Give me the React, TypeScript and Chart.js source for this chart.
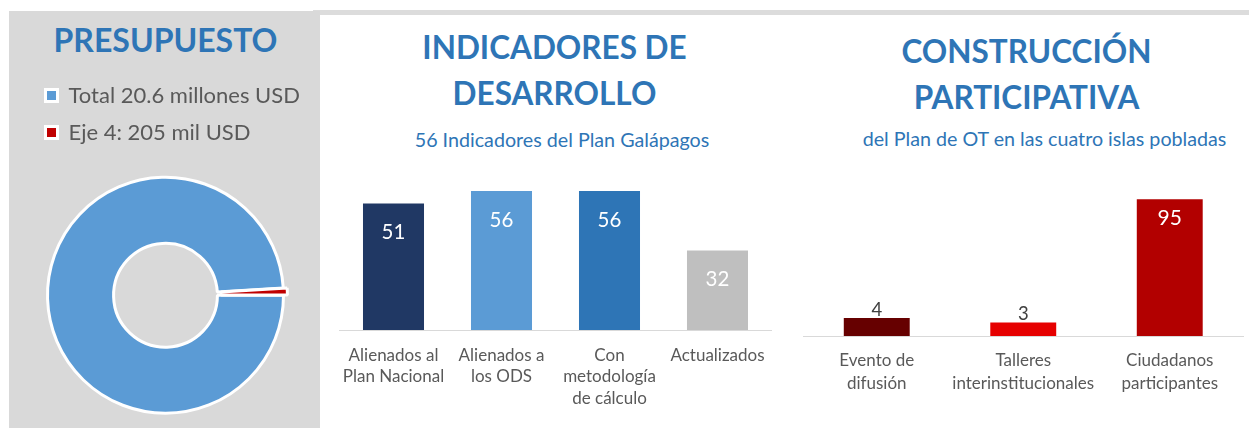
import React, { useEffect, useRef } from 'react';
import { Chart, registerables } from 'chart.js';

Chart.register(...registerables);

// ---------- DATA ----------
const presupuestoLabels = ['Total 20.6 millones USD', 'Eje 4: 205 mil USD'];
const presupuestoValues = [20.6, 0.205];
const presupuestoColors = ['#5b9bd5', '#c00000'];

const indicadoresLabels = [
  ['Alienados al', 'Plan Nacional'],
  ['Alienados a', 'los ODS'],
  ['Con', 'metodología', 'de cálculo'],
  ['Actualizados'],
];
const indicadoresValues = [51, 56, 56, 32];
const indicadoresColors = ['#203864', '#5b9bd5', '#2e75b6', '#bfbfbf'];

const participacionLabels = [
  ['Evento de', 'difusión'],
  ['Talleres', 'interinstitucionales'],
  ['Ciudadanos', 'participantes'],
];
const eventosValues = [4, 3, null];
const ciudadanosValues = [null, null, 95];
const participacionColors = ['#660000', '#e60000', '#b20000'];

const FONT = 'Lato';
const BLUE = '#2e75b6';
const GRAY_TEXT = '#595959';

// ---------- value label plugin ----------
const valueLabelPlugin = {
  id: 'valueLabels',
  afterDatasetsDraw(chart: any) {
    const ctx = chart.ctx;
    chart.data.datasets.forEach((ds: any, di: number) => {
      const meta = chart.getDatasetMeta(di);
      if (!ds.labelColor) return;
      meta.data.forEach((bar: any, i: number) => {
        const v = ds.data[i];
        if (v === null || v === undefined) return;
        ctx.save();
        ctx.fillStyle = ds.labelColor;
        ctx.font = `${ds.labelSize}px ${FONT}`;
        ctx.textAlign = 'center';
        ctx.textBaseline = 'alphabetic';
        ctx.fillText(String(v), bar.x, bar.y + ds.labelOffset);
        ctx.restore();
      });
    });
  },
};

function ChartCanvas({ makeConfig, width, height, left, top }: any) {
  const ref = useRef<HTMLCanvasElement | null>(null);
  useEffect(() => {
    const chart = new Chart(ref.current as HTMLCanvasElement, makeConfig());
    return () => chart.destroy();
  }, []);
  return (
    <canvas
      ref={ref}
      width={width}
      height={height}
      style={{ position: 'absolute', left, top, width, height }}
    />
  );
}

const fixAxis = (h: number) => (s: any) => {
  s.height = h;
  s.paddingLeft = 0;
  s.paddingRight = 0;
};

const donutConfig = () => ({
  type: 'doughnut',
  data: {
    labels: presupuestoLabels,
    datasets: [
      {
        data: presupuestoValues,
        backgroundColor: presupuestoColors,
        borderColor: '#ffffff',
        borderWidth: 3,
        offset: [0, 8],
      },
    ],
  },
  options: {
    animation: false,
    responsive: false,
    events: [],
    radius: 118,
    cutout: '44%',
    rotation: 90,
    layout: { padding: { left: 21.5, right: 19.5, top: 9.5, bottom: 0 } },
    plugins: {
      legend: {
        display: true,
        position: 'top',
        align: 'start',
        labels: {
          boxWidth: 12,
          boxHeight: 12,
          padding: 15,
          color: GRAY_TEXT,
          font: { family: FONT, size: 22 },
        },
      },
      tooltip: { enabled: false },
    },
  },
});

const indicadoresConfig = () => ({
  type: 'bar',
  data: {
    labels: indicadoresLabels,
    datasets: [
      {
        data: indicadoresValues,
        backgroundColor: indicadoresColors,
        barPercentage: 0.565,
        categoryPercentage: 1,
        labelColor: '#ffffff',
        labelSize: 20.5,
        labelOffset: 35.5,
      },
    ],
  },
  plugins: [valueLabelPlugin],
  options: {
    animation: false,
    responsive: false,
    events: [],
    layout: { padding: { left: 9.5, right: 8.5, top: 10, bottom: 0 } },
    plugins: { legend: { display: false }, tooltip: { enabled: false } },
    scales: {
      x: {
        grid: { display: false, drawTicks: false },
        border: { display: true, color: '#d9d9d9', width: 1 },
        ticks: {
          color: GRAY_TEXT,
          font: { family: FONT, size: 17, lineHeight: '21.7px' },
          padding: 14.2,
          maxRotation: 0,
          autoSkip: false,
        },
        afterFit: fixAxis(90),
      },
      y: { display: false, min: 0, max: 64.5 },
    },
  },
});

const participacionConfig = () => ({
  type: 'bar',
  data: {
    labels: participacionLabels,
    datasets: [
      {
        data: eventosValues,
        backgroundColor: participacionColors,
        yAxisID: 'y',
        grouped: false,
        barPercentage: 0.45,
        categoryPercentage: 1,
        labelColor: '#404040',
        labelSize: 18.5,
        labelOffset: -2,
      },
      {
        data: ciudadanosValues,
        backgroundColor: participacionColors,
        yAxisID: 'y2',
        grouped: false,
        barPercentage: 0.45,
        categoryPercentage: 1,
        labelColor: '#ffffff',
        labelSize: 21,
        labelOffset: 25.3,
      },
    ],
  },
  plugins: [valueLabelPlugin],
  options: {
    animation: false,
    responsive: false,
    events: [],
    layout: { padding: { left: 8.5, right: 6, top: 10, bottom: 0 } },
    plugins: { legend: { display: false }, tooltip: { enabled: false } },
    scales: {
      x: {
        grid: { display: false, drawTicks: false },
        border: { display: true, color: '#d9d9d9', width: 1 },
        ticks: {
          color: GRAY_TEXT,
          font: { family: FONT, size: 17, lineHeight: '23px' },
          padding: 12.6,
          maxRotation: 0,
          autoSkip: false,
        },
        afterFit: fixAxis(90),
      },
      y: { display: false, min: 0, max: 33.33 },
      y2: { display: false, min: 0, max: 104.2, position: 'right' },
    },
  },
});

function Text({ cx, top, size, bold, lh, children, w = 420 }: any) {
  return (
    <div
      style={{
        position: 'absolute',
        left: cx - w / 2,
        width: w,
        top,
        textAlign: 'center',
        fontFamily: FONT,
        fontWeight: bold ? 700 : 400,
        fontSize: size,
        lineHeight: lh + 'px',
        color: BLUE,
        whiteSpace: 'nowrap',
      }}
    >
      {children}
    </div>
  );
}

export default function App() {
  return (
    <div
      style={{
        position: 'fixed',
        left: 0,
        top: 0,
        width: 1249,
        height: 428,
        overflow: 'hidden',
        background: '#ffffff',
      }}
    >
      <div style={{ position: 'absolute', left: 313, top: 10, width: 936, height: 5, background: '#dcdcdc' }} />
      <div style={{ position: 'absolute', left: 9, top: 11, width: 311, height: 420, background: '#d9d9d9', overflow: 'hidden' }}>
        <ChartCanvas makeConfig={donutConfig} width={311} height={377} left={0} top={49} />
      </div>

      <Text cx={165.5} top={19.6} size={32} bold lh={40} w={300}>PRESUPUESTO</Text>

      <Text cx={554.5} top={23.9} size={31.5} bold lh={46}>
        INDICADORES DE
        <br />
        DESARROLLO
      </Text>
      <Text cx={562} top={128.2} size={19.7} lh={24}>56 Indicadores del Plan Galápagos</Text>

      <Text cx={1026.5} top={27.9} size={31.5} bold lh={46}>
        CONSTRUCCIÓN
        <br />
        PARTICIPATIVA
      </Text>
      <Text cx={1044.5} top={127.2} size={19.7} lh={24}>del Plan de OT en las cuatro islas pobladas</Text>

      <ChartCanvas makeConfig={indicadoresConfig} width={450} height={260} left={330} top={160} />
      <ChartCanvas makeConfig={participacionConfig} width={454} height={250} left={795} top={176} />
    </div>
  );
}
